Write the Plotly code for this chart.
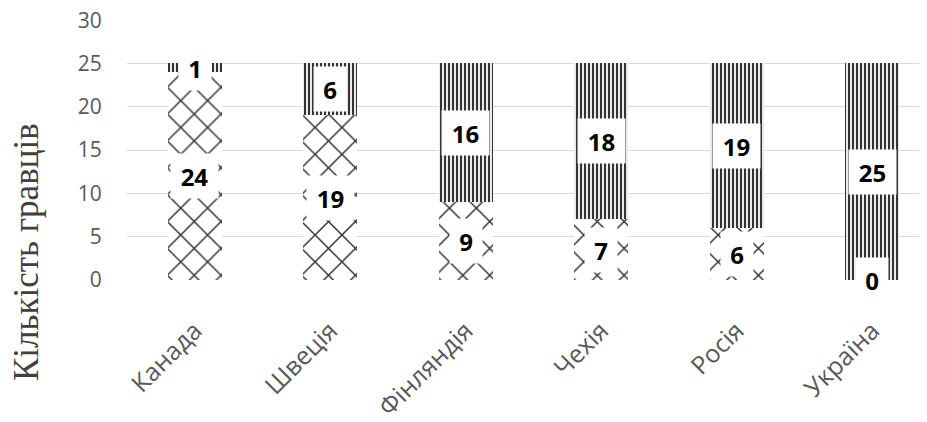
import plotly.graph_objects as go

categories = ["Канада", "Швеція", "Фінляндія", "Чехія", "Росія", "Україна"]
bottom_values = [24, 19, 9, 7, 6, 0]
top_values = [1, 6, 16, 18, 19, 25]
y_ticks = [0, 5, 10, 15, 20, 25, 30]
y_title = "Кількість гравців"

# page body has an 8px margin, so the figure is made 8px smaller each way
W, H = 919, 414
ml, mr, mt, mb = 119, 0, 12, 142
pw, ph = W - ml - mr, H - mt - mb

fig = go.Figure()
fig.add_trace(go.Bar(
    x=categories, y=bottom_values, width=0.4,
    marker=dict(color="white", line=dict(width=0),
                pattern=dict(shape="x", fgcolor="#333333", bgcolor="white",
                             fgopacity=1, size=19, solidity=0.15,
                             fillmode="overlay")),
    showlegend=False,
))
fig.add_trace(go.Bar(
    x=categories, y=top_values, width=0.4,
    marker=dict(color="white", line=dict(width=0),
                pattern=dict(shape="|", fgcolor="#333333", bgcolor="white",
                             fgopacity=1, size=4, solidity=0.55,
                             fillmode="overlay")),
    showlegend=False,
))

label_font = dict(family="Open Sans", size=24, color="black", weight="bold")
for cat, b, t in zip(categories, bottom_values, top_values):
    for val, mid in ((b, b / 2), (t, b + t / 2)):
        txt = str(val)
        fig.add_annotation(
            x=cat, y=mid, text=f"<b>{txt}</b>", showarrow=False,
            font=label_font, bgcolor="white", borderpad=7,
            width=15 * len(txt) + 3, height=30, xref="x", yref="y",
        )

fig.add_annotation(
    x=(19 - ml) / pw, y=(H - mb - 244) / ph, xref="paper", yref="paper",
    xanchor="center", yanchor="middle",
    text=y_title, showarrow=False, textangle=-90,
    font=dict(family="Liberation Serif", size=35, color="#404040"),
)

fig.update_layout(
    width=W, height=H, barmode="stack",
    margin=dict(l=ml, r=mr, t=mt, b=mb),
    plot_bgcolor="white", paper_bgcolor="white",
    font=dict(family="Open Sans", color="#595959"),
)
fig.update_xaxes(
    range=[-0.5, 5.404], tickangle=-45, tickfont=dict(size=25, color="#595959"),
    ticks="outside", ticklen=25, tickcolor="rgba(0,0,0,0)",
    automargin=False,
    showgrid=False, showline=False, zeroline=False,
)
fig.update_yaxes(
    range=[0, 30.02], tickvals=y_ticks, tickfont=dict(size=21, color="#595959"),
    ticks="outside", ticklen=20, tickcolor="rgba(0,0,0,0)",
    ticklabeloverflow="allow", automargin=False,
    showgrid=True, gridcolor="#d9d9d9", gridwidth=1, zeroline=False,
    showline=False,
)

fig.write_html("out.html")
